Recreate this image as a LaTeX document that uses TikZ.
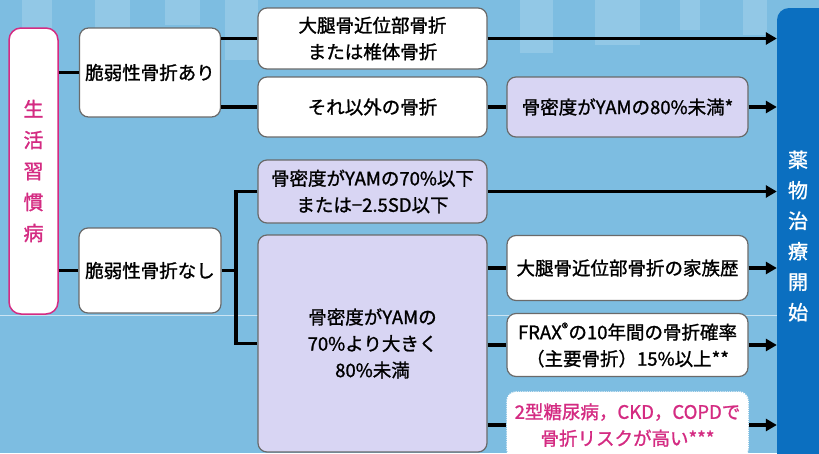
\documentclass[tikz,border=0pt]{standalone}
\usepackage{fontspec}
\setmainfont{Noto Sans CJK JP}[FakeBold=1.2]
\usetikzlibrary{arrows.meta}
\definecolor{bg}{HTML}{7DBDE1}
\definecolor{lav}{HTML}{D8D5F3}
\definecolor{pinkc}{HTML}{D42B82}
\definecolor{startblue}{HTML}{0B6FC0}
\definecolor{edgegray}{HTML}{6A6A6A}
\tikzset{
  box/.style={draw=edgegray, line width=1.2pt, rounded corners=9pt, fill=white,
    inner sep=0pt, align=center, font=\fontsize{18.5}{26.5}\selectfont},
  lavbox/.style={box, fill=lav},
  conn/.style={line width=3.2pt, draw=black},
  arr/.style={conn, -{Triangle[length=11pt,width=12pt]}},
  stripe/.style={fill=white, opacity=0.17},
}
\begin{document}
\begin{tikzpicture}[x=1pt,y=-1pt]
\useasboundingbox (0,0) rectangle (819,453);
\clip (0,0) rectangle (819,453);
\fill[bg] (0,0) rectangle (819,453);
% decorative stripes
\fill[stripe] (22,0) rectangle (52,30);
\fill[stripe] (95,0) rectangle (130,55);
\fill[stripe] (165,0) rectangle (200,25);
\fill[stripe] (225,0) rectangle (258,60);
\fill[stripe] (520,0) rectangle (553,53);
\fill[stripe] (595,0) rectangle (640,45);
\fill[stripe] (680,0) rectangle (700,30);
\fill[stripe] (743,0) rectangle (767,35);
\draw[white, opacity=0.6, line width=0.8pt] (0,315) -- (819,315);

% nodes
\node[box, draw=pinkc, line width=1.5pt, rounded corners=12pt, minimum width=49pt,
  minimum height=286pt, text=pinkc, font=\fontsize{20}{31}\selectfont]
  (lsd) at (33.5,171) {生\\活\\習\\慣\\病};
\node[box, minimum width=141pt, minimum height=89pt] (ari) at (150,72.5) {脆弱性骨折あり};
\node[box, minimum width=142pt, minimum height=85pt] (nashi) at (150,270.5) {脆弱性骨折なし};
\node[box, minimum width=229pt, minimum height=61pt] (hip) at (372.5,38.5) {大腿骨近位部骨折\\または椎体骨折};
\node[box, minimum width=229pt, minimum height=60pt] (other) at (372.5,107) {それ以外の骨折};
\node[lavbox, minimum width=241pt, minimum height=60pt] (bmd80) at (627.5,107) {骨密度がYAMの80\%未満*};
\node[lavbox, minimum width=229pt, minimum height=63pt] (bmd70) at (372.5,191.5) {骨密度がYAMの70\%以下\\または−2.5SD以下};
\node[lavbox, minimum width=229pt, minimum height=217pt] (bmdmid) at (372.5,343.5) {骨密度がYAMの\\70\%より大きく\\80\%未満};
\node[box, minimum width=241pt, minimum height=65pt] (fam) at (627.5,268) {大腿骨近位部骨折の家族歴};
\node[box, minimum width=241pt, minimum height=63pt] (frax) at (627.5,345) {FRAX\textsuperscript{®}の10年間の骨折確率\\（主要骨折）15\%以上**};
\node[box, draw=white, densely dotted, line width=1.5pt, text=pinkc, minimum width=241pt, minimum height=66pt] (dm) at (627.5,425) {2型糖尿病，CKD，COPDで\\骨折リスクが高い***};
\node[fill=startblue, rounded corners=12pt, minimum width=60pt, minimum height=470pt, inner sep=0pt] (start) at (807,243) {};
\node[text=white, align=center, font=\fontsize{20}{30.5}\selectfont] (starttext) at (798,236) {薬\\物\\治\\療\\開\\始};

% connectors
\coordinate (j) at (236,270.5);
\draw[conn] (lsd.east |- ari) -- (ari.west);
\draw[conn] (lsd.east |- nashi) -- (nashi.west);
\draw[conn] (ari.east |- hip) -- (hip.west);
\draw[conn] (ari.east |- other) -- (other.west);
\draw[conn] (other.east) -- (bmd80.west);
\draw[conn] (nashi.east) -- (j);
\draw[conn] (bmd70.west) -| (j) |- (bmdmid.west);
\draw[conn] (bmdmid.east |- fam) -- (fam.west);
\draw[conn] (bmdmid.east |- frax) -- (frax.west);
\draw[conn] (bmdmid.east |- dm) -- (dm.west);
\draw[arr] (hip.east) -- (start.west |- hip);
\draw[arr] (bmd80.east) -- (start.west |- bmd80);
\draw[arr] (bmd70.east) -- (start.west |- bmd70);
\draw[arr] (fam.east) -- (start.west |- fam);
\draw[arr] (frax.east) -- (start.west |- frax);
\draw[arr] (dm.east) -- (start.west |- dm);
\end{tikzpicture}
\end{document}
